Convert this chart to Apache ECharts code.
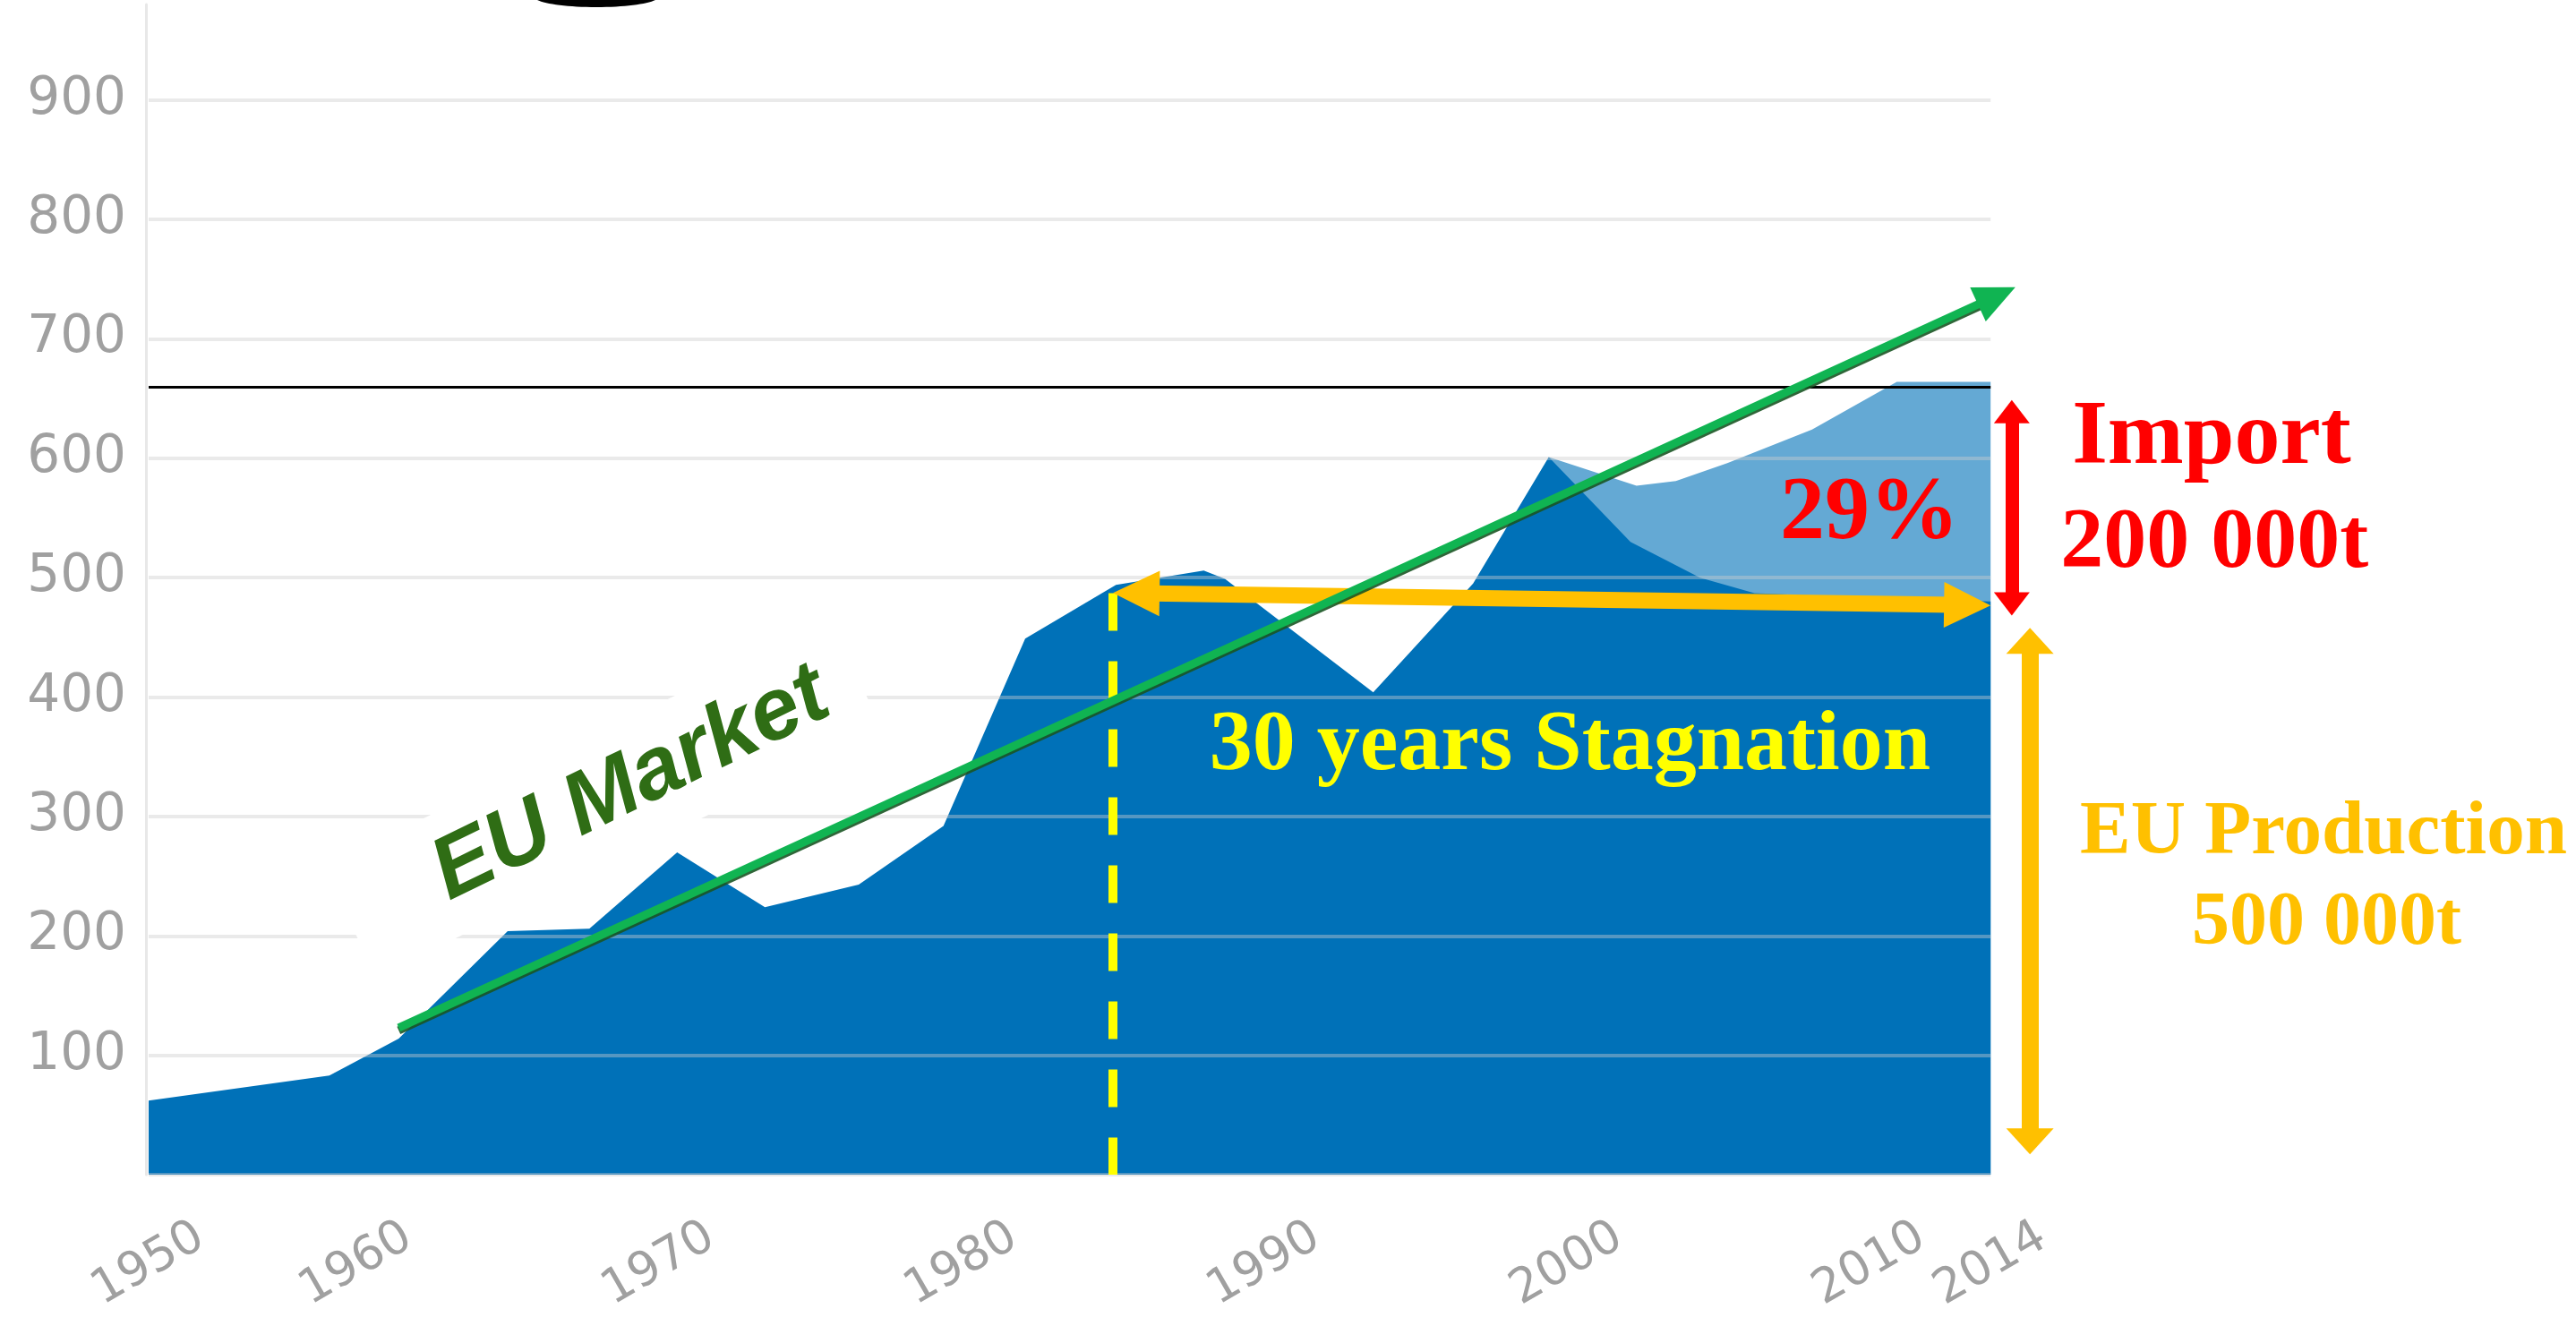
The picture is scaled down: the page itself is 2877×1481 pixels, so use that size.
<!DOCTYPE html>
<html>
<head>
<meta charset="utf-8">
<title>EU Market</title>
<script src="https://cdn.jsdelivr.net/npm/echarts@6.0.0/dist/echarts.min.js"></script>
<style>
  html, body { margin: 0; padding: 0; background: #fff; overflow: hidden; }
  #main { width: 2877px; height: 1481px; }
</style>
</head>
<body>
<div id="main"></div>
<script>
// EU production (area, dark blue)
var years      = [1950, 1958.7, 1960, 1961.4, 1965.0, 1967.7, 1970.6, 1973.5, 1976.6, 1979.4, 1982.1, 1985.1, 1988.0, 1988.7, 1993.6, 1996.9, 1999.4, 2002.1, 2004.4, 2006.2, 2010.0, 2014];
var production = [62,   83,     95,   114,    204,    206,    270,    224,    243,    292,    449,    494,    506,    499,    404,    495,    601,    530,    500,    487,    483,    480];

// EU market = production + import (light blue), only differs after 2000
var marketYears = [1999.4, 2002.3, 2003.6, 2005.3, 2008.1, 2010.9, 2014];
var market      = [601,    577,    581,    596,    624,    664,    664];

// annotations
var marketLevel = 660;                     // black line
var trendYears  = [1961.4, 2014.2];        // green "EU Market" arrow
var trendValues = [123, 736];
var stagYears   = [1985, 2014];            // yellow "30 years Stagnation" arrow
var stagValues  = [487, 477];
var importYear  = 2014.7;                  // red import arrow
var importRange = [468, 649];
var prodYear    = 2015.3;                  // yellow production arrow
var prodRange   = [17, 458];

var early = [], late = [];
for (var i = 0; i < years.length; i++) {
  if (years[i] <= 1960) early.push([years[i], production[i]]);
  if (years[i] >= 1960) late.push([years[i], production[i]]);
}
var marketData = [];
for (var j = 0; j < marketYears.length; j++) marketData.push([marketYears[j], market[j]]);

var grayText = '#a0a0a0';
var gridLine = { show: true, showMaxLine: false, lineStyle: { color: 'rgba(205,205,205,0.42)', width: 4 } };

function xAxisCfg(idx, min, max, showMax) {
  return {
    gridIndex: idx, type: 'value', min: min, max: max, interval: 10,
    axisLine: { show: false }, axisTick: { show: false }, splitLine: { show: false },
    axisLabel: {
      show: true, rotate: 30, align: 'center', verticalAlign: 'middle', margin: 100,
      fontFamily: 'DejaVu Sans', fontSize: 53, color: grayText,
      showMinLabel: true, showMaxLabel: showMax, hideOverlap: false,
      formatter: function (v) { return String(v); }
    }
  };
}

function yAxisCfg(idx, withLabels) {
  return {
    gridIndex: idx, type: 'value', min: 0, max: 980, interval: 100, z: 3,
    offset: withLabels ? 3 : 0,
    axisLine: { show: withLabels, lineStyle: { color: '#e8e8e8', width: 3 } },
    axisTick: { show: false },
    splitLine: gridLine,
    axisLabel: {
      show: withLabels, margin: 22, fontFamily: 'DejaVu Sans', fontSize: 58, color: grayText,
      padding: [0, 0, 22, 0], showMinLabel: false, showMaxLabel: false,
      formatter: function (v) { return String(v); }
    }
  };
}

var blackLine = {
  silent: true, animation: false, symbol: ['none', 'none'], label: { show: false },
  lineStyle: { color: '#000', width: 3, type: 'solid' },
  data: [{ yAxis: marketLevel }]
};

function areaSeries(name, xi, data, color) {
  return {
    name: name, type: 'line', xAxisIndex: xi, yAxisIndex: xi, data: data, z: 2,
    symbol: 'none', silent: true, lineStyle: { width: 0, opacity: 0 },
    areaStyle: { color: color, opacity: 1 }
  };
}

function note(x, y, text, style) {
  var lab = { show: true, position: 'inside', formatter: text, textBorderWidth: 0, opacity: 1 };
  for (var k in style) lab[k] = style[k];
  return { value: [x, y], label: lab };
}
function serifStyle(color, size) {
  return { fontFamily: 'Liberation Serif', fontWeight: 'bold', color: color, fontSize: size };
}

var myChart = echarts.init(document.getElementById('main'));

var option = {
  backgroundColor: '#fff',
  animation: false,
  grid: [
    { left: 166, top: 5, width: 232, height: 1307, outerBoundsMode: 'none', containLabel: false },
    { left: 398, top: 5, width: 54 * 33.8, height: 1307, outerBoundsMode: 'none', containLabel: false },
    { left: 398, top: 5, width: 80 * 33.8, height: 1307, outerBoundsMode: 'none', containLabel: false }
  ],
  xAxis: [
    xAxisCfg(0, 1950, 1960, false),
    xAxisCfg(1, 1960, 2014, true),
    { gridIndex: 2, type: 'value', min: 1960, max: 2040, show: false }
  ],
  yAxis: [
    yAxisCfg(0, true),
    yAxisCfg(1, false),
    { gridIndex: 2, type: 'value', min: 0, max: 980, show: false }
  ],
  graphic: [
    // piece of a logo cut off at the top edge
    { type: 'ellipse', silent: true, shape: { cx: 666, cy: -4, rx: 70, ry: 12 }, style: { fill: '#000' } }
  ],
  series: [
    areaSeries('EU Market', 1, marketData, '#64a9d4'),
    (function () { var s = areaSeries('EU Production', 0, early, '#0071b8'); s.markLine = blackLine; return s; })(),
    (function () { var s = areaSeries('EU Production', 1, late, '#0071b8'); s.markLine = blackLine; return s; })(),
    {
      name: 'arrows', type: 'line', xAxisIndex: 2, yAxisIndex: 2, data: [], silent: true,
      markLine: {
        silent: true, animation: false, z: 6, symbol: ['none', 'none'], label: { show: false },
        data: [
          // dashed start of the stagnation
          [
            { coord: [stagYears[0], stagValues[0]], symbol: 'none', lineStyle: { color: '#ffff00', width: 10, type: [42, 34] } },
            { coord: [stagYears[0], 0], symbol: 'none' }
          ],
          [
            { coord: [stagYears[0] + 0.77, stagValues[0]], symbol: 'triangle', symbolSize: [51, 52], lineStyle: { color: '#ffc000', width: 18, type: 'solid' } },
            { coord: [stagYears[1] - 0.77, stagValues[1]], symbol: 'triangle', symbolSize: [51, 52] }
          ],
          [
            { coord: [importYear, importRange[1] - 10], symbol: 'triangle', symbolSize: [40, 26], lineStyle: { color: '#ff0000', width: 15, type: 'solid' } },
            { coord: [importYear, importRange[0] + 10], symbol: 'triangle', symbolSize: [40, 26] }
          ],
          [
            { coord: [prodYear, prodRange[1] - 11], symbol: 'triangle', symbolSize: [53, 29], lineStyle: { color: '#ffc000', width: 19, type: 'solid' } },
            { coord: [prodYear, prodRange[0] + 11], symbol: 'triangle', symbolSize: [53, 29] }
          ],
          [
            { coord: [trendYears[0], trendValues[0]], symbol: 'none', lineStyle: { color: '#10b452', width: 9, type: 'solid', shadowColor: 'rgba(25,85,35,0.9)', shadowOffsetY: 3, shadowBlur: 0 } },
            { coord: [trendYears[1], trendValues[1]], symbol: 'triangle', symbolSize: [42, 46] }
          ]
        ]
      }
    },
    {
      name: 'market label', type: 'scatter', xAxisIndex: 2, yAxisIndex: 2, z: 4, silent: true,
      symbolSize: 1, itemStyle: { color: 'rgba(0,0,0,0)', opacity: 1 },
      data: [
        note(1968.15, 315, 'EU Market', {
          fontFamily: 'Liberation Sans', fontWeight: 'bold', fontStyle: 'italic', fontSize: 98,
          color: '#2f6d15', rotate: 26, lineHeight: 100,
          backgroundColor: '#fff', padding: [18, 40, 18, 110]
        })
      ]
    },
    {
      name: 'notes', type: 'scatter', xAxisIndex: 2, yAxisIndex: 2, z: 10, silent: true,
      symbolSize: 1, itemStyle: { color: 'rgba(0,0,0,0)', opacity: 1 },
      data: [
        note(2021.3, 616, 'Import', serifStyle('#ff0000', 102)),
        note(2021.4, 528, '200 000t', serifStyle('#ff0000', 96)),
        note(2010.0, 553, '29%', serifStyle('#ff0000', 100)),
        note(2000.1, 358, '30 years Stagnation', serifStyle('#ffff00', 96)),
        note(2025.0, 286, 'EU Production', serifStyle('#ffc000', 85)),
        note(2025.1, 210, '500 000t', serifStyle('#ffc000', 84))
      ]
    }
  ]
};

myChart.setOption(option);
</script>
</body>
</html>
